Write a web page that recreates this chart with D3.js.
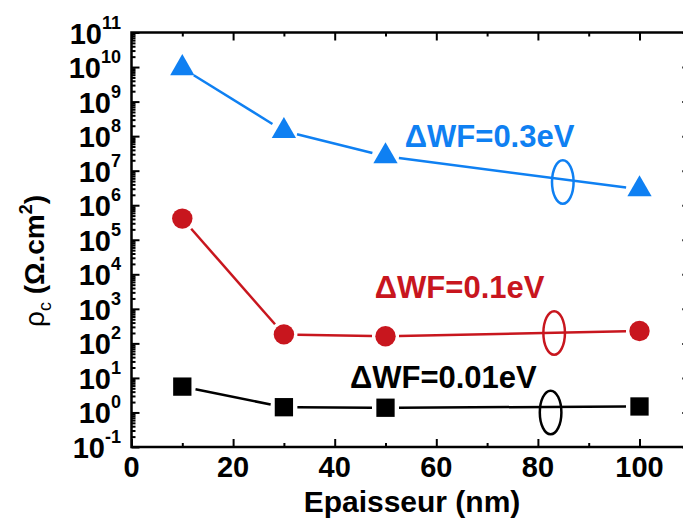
<!DOCTYPE html>
<html>
<head>
<meta charset="utf-8">
<script src="https://cdn.jsdelivr.net/npm/d3@7"></script>
<style>
  body { margin: 0; background: #fff; }
  svg text { font-family: "Liberation Sans", Arial, sans-serif; font-weight: bold; }
</style>
</head>
<body>
<svg id="chart" width="683" height="520"></svg>
<script>
var thickness = [10, 30, 50, 100];
var rhoWF03 = [9.3e9, 1.4e8, 2.6e7, 2.9e6];
var rhoWF01 = [4.1e5, 182, 160, 229];
var rhoWF001 = [5.6, 1.42, 1.37, 1.49];
var seriesNames = ["ΔWF=0.3eV", "ΔWF=0.1eV", "ΔWF=0.01eV"];
var xMajorTicks = [0, 20, 40, 60, 80, 100];
var xMinorTicks = [10, 30, 50, 70, 90, 110];
var yExponents = d3.range(-1, 12);
// label left/baseline and ellipse centre, in data units
var labelAnchors = [[53.8, 4.8e7], [47.9, 2.0e3], [43.0, 5.0]];
var ellipseAnchors = [[84.9, 4.7e6], [83.2, 200], [82.5, 1.0]];

var svg = d3.select("#chart");
var x = d3.scaleLinear().domain([0, 110]).range([131.5, 690.3]);
var y = d3.scaleLog().domain([0.1, 1e11]).range([447, 32.5]);

var series = [
  {values: rhoWF03, color: "#0F80F2", symbol: d3.symbolTriangle, size: 255},
  {values: rhoWF01, color: "#C8161E", symbol: d3.symbolCircle, size: 327},
  {values: rhoWF001, color: "#000000", symbol: d3.symbolSquare, size: 335}
];

var yMajor = yExponents.map(function(e){ return Math.pow(10, e); });
var yMinor = [];
yExponents.slice(0, -1).forEach(function(e){
  for (var k = 2; k <= 9; k++) yMinor.push(k * Math.pow(10, e));
});

// ticks on all four sides, pointing inward
function addAxis(axis, tx, ty) {
  var g = svg.append("g").attr("transform", "translate(" + tx + "," + ty + ")").call(axis);
  g.select(".domain").remove();
  g.selectAll("line").attr("stroke", "#000").attr("stroke-width", 2);
  return g;
}
var x0 = x.range()[0], x1 = x.range()[1], yb = y.range()[0], yt = y.range()[1];
addAxis(d3.axisBottom(x).tickValues(xMajorTicks).tickSize(-8).tickFormat(""), 0, yb);
addAxis(d3.axisBottom(x).tickValues(xMinorTicks).tickSize(-4).tickFormat(""), 0, yb);
addAxis(d3.axisTop(x).tickValues(xMajorTicks).tickSize(-8).tickFormat(""), 0, yt);
addAxis(d3.axisTop(x).tickValues(xMinorTicks).tickSize(-4).tickFormat(""), 0, yt);
addAxis(d3.axisLeft(y).tickValues(yMajor).tickSize(-8).tickFormat(""), x0, 0);
addAxis(d3.axisLeft(y).tickValues(yMinor).tickSize(-4).tickFormat(""), x0, 0);
addAxis(d3.axisRight(y).tickValues(yMajor).tickSize(-8).tickFormat(""), x1, 0);
addAxis(d3.axisRight(y).tickValues(yMinor).tickSize(-4).tickFormat(""), x1, 0);

svg.append("rect")
  .attr("x", x0).attr("y", yt).attr("width", x1 - x0).attr("height", yb - yt)
  .attr("fill", "none").attr("stroke", "#000").attr("stroke-width", 2.5);

// tick labels
svg.append("g").selectAll("text").data(xMajorTicks).enter().append("text")
  .attr("x", function(d){ return x(d); })
  .attr("y", 477)
  .attr("text-anchor", "middle")
  .attr("font-size", 29)
  .text(function(d){ return d; });

var yLab = svg.append("g").selectAll("text").data(yExponents).enter().append("text")
  .attr("x", 121)
  .attr("y", function(d){ return y(Math.pow(10, d)) + 11; })
  .attr("text-anchor", "end")
  .attr("font-size", 29);
yLab.append("tspan").text("10");
yLab.append("tspan").attr("font-size", 18).attr("dy", -15)
  .text(function(d){ return d < 0 ? "-" + (-d) : d; });

// axis titles
svg.append("text")
  .attr("x", 412).attr("y", 512)
  .attr("text-anchor", "middle")
  .attr("font-size", 30)
  .text("Epaisseur (nm)");

var yTitle = svg.append("text")
  .attr("transform", "translate(44,261) rotate(-90)")
  .attr("text-anchor", "middle")
  .attr("font-size", 28);
yTitle.append("tspan").attr("font-weight", "normal").text("ρ");
yTitle.append("tspan").attr("font-weight", "normal").attr("font-size", 18).attr("dy", 7).text("c");
yTitle.append("tspan").attr("dy", -7).text(" (Ω.cm");
yTitle.append("tspan").attr("font-size", 18).attr("dy", -12).text("2");
yTitle.append("tspan").attr("dy", 12).text(")");

// lines, broken a little before each marker
var gap = 13.5;
series.forEach(function(s, i){
  var pts = thickness.map(function(t, j){ return [x(t), y(s.values[j])]; });
  for (var j = 0; j < pts.length - 1; j++) {
    var a = pts[j], b = pts[j + 1];
    var dx = b[0] - a[0], dy = b[1] - a[1], len = Math.sqrt(dx * dx + dy * dy);
    var ux = dx / len, uy = dy / len;
    svg.append("line")
      .attr("x1", a[0] + ux * gap).attr("y1", a[1] + uy * gap)
      .attr("x2", b[0] - ux * gap).attr("y2", b[1] - uy * gap)
      .attr("stroke", s.color).attr("stroke-width", 2.5);
  }
  svg.append("g").selectAll("path").data(pts).enter().append("path")
    .attr("transform", function(d){ return "translate(" + d[0] + "," + d[1] + ")"; })
    .attr("d", d3.symbol().type(s.symbol).size(s.size))
    .attr("fill", s.color);

  svg.append("ellipse")
    .attr("cx", x(ellipseAnchors[i][0])).attr("cy", y(ellipseAnchors[i][1]))
    .attr("rx", 10.8).attr("ry", 21.8)
    .attr("fill", "none").attr("stroke", s.color).attr("stroke-width", 2.5);

  svg.append("text")
    .attr("x", x(labelAnchors[i][0])).attr("y", y(labelAnchors[i][1]))
    .attr("font-size", 31)
    .attr("fill", s.color)
    .text(seriesNames[i]);
});
</script>
</body>
</html>
